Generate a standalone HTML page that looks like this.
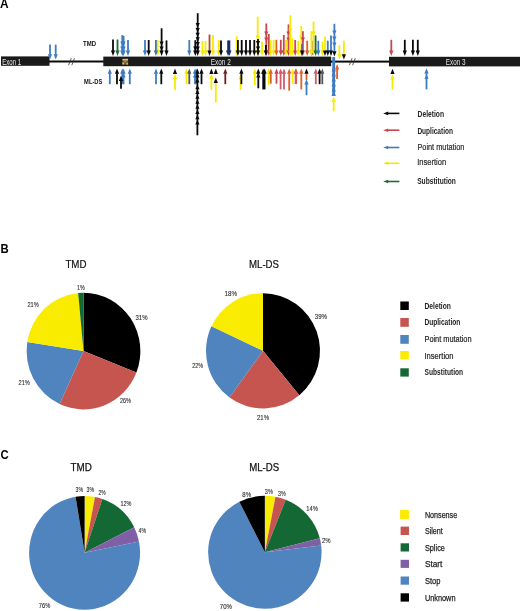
<!DOCTYPE html>
<html><head><meta charset="utf-8"><style>
html,body{margin:0;padding:0;background:#fff;width:520px;height:611px;overflow:hidden}
svg{display:block;will-change:transform}
text{font-family:"Liberation Sans",sans-serif}
</style></head><body>
<svg width="520" height="611" viewBox="0 0 520 611" font-family="Liberation Sans, sans-serif">
<rect x="1" y="56.4" width="48.5" height="9.4" fill="#1a1a1a"/><rect x="49" y="60.5" width="56" height="2" fill="#0a0a0a"/><rect x="103.3" y="56.6" width="227.9" height="9.6" fill="#1a1a1a"/><rect x="330" y="60.6" width="60" height="2" fill="#0a0a0a"/><rect x="389" y="56.8" width="131" height="9.6" fill="#1a1a1a"/><path d="M68.6 65.2L71.3 58.2M71.8 65.2L74.5 58.2" stroke="#333" stroke-width="0.8" fill="none"/><path d="M349.4 65.2L352.1 58.2M352.6 65.2L355.3 58.2" stroke="#333" stroke-width="0.8" fill="none"/><rect x="122.3" y="58.8" width="5.8" height="5.8" fill="#6e5a30"/><rect x="122.6" y="58.9" width="5.4" height="1.5" fill="#d9c383"/><rect x="122.3" y="62.4" width="1.9" height="2" fill="#c8b27a"/><rect x="126.4" y="62.8" width="1.7" height="1.8" fill="#c8b27a"/><rect x="124.2" y="61" width="2.2" height="1.2" fill="#a08848"/>
<path d="M50.00 44.60V54.70" stroke="#3d7cc4" stroke-width="1.8"/>
<path d="M47.90 54.20L52.10 54.20L50.00 59.60Z" fill="#3d7cc4"/>
<path d="M55.70 44.60V54.70" stroke="#3d7cc4" stroke-width="1.8"/>
<path d="M53.60 54.20L57.80 54.20L55.70 59.60Z" fill="#3d7cc4"/>
<path d="M113.00 39.50V51.00" stroke="#0a0a0a" stroke-width="1.8"/>
<path d="M110.90 50.50L115.10 50.50L113.00 55.90Z" fill="#0a0a0a"/>
<path d="M117.50 39.50V51.00" stroke="#1c6b38" stroke-width="1.8"/>
<path d="M115.40 50.50L119.60 50.50L117.50 55.90Z" fill="#1c6b38"/>
<path d="M122.30 35.00V51.00" stroke="#3d7cc4" stroke-width="1.8"/>
<path d="M120.20 41.60L124.40 41.60L122.30 46.00Z" fill="#3d7cc4"/>
<path d="M120.20 46.60L124.40 46.60L122.30 51.00Z" fill="#3d7cc4"/>
<path d="M120.20 50.50L124.40 50.50L122.30 55.90Z" fill="#3d7cc4"/>
<path d="M123.60 36.00V51.00" stroke="#3d7cc4" stroke-width="1.8"/>
<path d="M121.50 41.60L125.70 41.60L123.60 46.00Z" fill="#3d7cc4"/>
<path d="M121.50 46.60L125.70 46.60L123.60 51.00Z" fill="#3d7cc4"/>
<path d="M121.50 50.50L125.70 50.50L123.60 55.90Z" fill="#3d7cc4"/>
<path d="M128.00 40.00V51.00" stroke="#3d7cc4" stroke-width="1.8"/>
<path d="M125.90 50.50L130.10 50.50L128.00 55.90Z" fill="#3d7cc4"/>
<path d="M145.00 40.00V51.00" stroke="#3d7cc4" stroke-width="1.8"/>
<path d="M142.90 50.50L147.10 50.50L145.00 55.90Z" fill="#3d7cc4"/>
<path d="M148.70 40.00V51.00" stroke="#0a0a0a" stroke-width="1.8"/>
<path d="M146.60 50.50L150.80 50.50L148.70 55.90Z" fill="#0a0a0a"/>
<path d="M157.70 40.00V51.00" stroke="#f8ea00" stroke-width="1.8"/>
<path d="M155.60 50.50L159.80 50.50L157.70 55.90Z" fill="#f8ea00"/>
<path d="M155.90 40.00V51.00" stroke="#3f7a9a" stroke-width="1.8"/>
<path d="M153.80 50.50L158.00 50.50L155.90 55.90Z" fill="#3f7a9a"/>
<path d="M161.60 28.30V51.00" stroke="#0a0a0a" stroke-width="1.8"/>
<path d="M159.50 41.40L163.70 41.40L161.60 45.80Z" fill="#0a0a0a"/>
<path d="M159.50 46.60L163.70 46.60L161.60 51.00Z" fill="#0a0a0a"/>
<path d="M159.50 50.50L163.70 50.50L161.60 55.90Z" fill="#0a0a0a"/>
<path d="M166.50 40.40V51.00" stroke="#0a0a0a" stroke-width="1.8"/>
<path d="M164.40 50.50L168.60 50.50L166.50 55.90Z" fill="#0a0a0a"/>
<path d="M189.30 40.00V51.00" stroke="#3d7cc4" stroke-width="1.8"/>
<path d="M187.20 50.50L191.40 50.50L189.30 55.90Z" fill="#3d7cc4"/>
<path d="M195.30 40.20V51.00" stroke="#0a0a0a" stroke-width="1.8"/>
<path d="M193.20 46.60L197.40 46.60L195.30 51.00Z" fill="#0a0a0a"/>
<path d="M193.20 50.50L197.40 50.50L195.30 55.90Z" fill="#0a0a0a"/>
<path d="M197.70 13.20V51.00" stroke="#0a0a0a" stroke-width="1.8"/>
<path d="M195.60 23.10L199.80 23.10L197.70 27.50Z" fill="#0a0a0a"/>
<path d="M195.60 27.90L199.80 27.90L197.70 32.30Z" fill="#0a0a0a"/>
<path d="M195.60 32.70L199.80 32.70L197.70 37.10Z" fill="#0a0a0a"/>
<path d="M195.60 37.30L199.80 37.30L197.70 41.70Z" fill="#0a0a0a"/>
<path d="M195.60 41.90L199.80 41.90L197.70 46.30Z" fill="#0a0a0a"/>
<path d="M195.60 46.60L199.80 46.60L197.70 51.00Z" fill="#0a0a0a"/>
<path d="M195.60 50.50L199.80 50.50L197.70 55.90Z" fill="#0a0a0a"/>
<path d="M202.50 41.00V51.00" stroke="#f8ea00" stroke-width="1.8"/>
<path d="M200.40 50.50L204.60 50.50L202.50 55.90Z" fill="#f8ea00"/>
<path d="M205.50 41.00V51.00" stroke="#f8ea00" stroke-width="1.8"/>
<path d="M203.40 50.50L207.60 50.50L205.50 55.90Z" fill="#f8ea00"/>
<path d="M209.50 34.50V51.00" stroke="#b8482a" stroke-width="1.8"/>
<path d="M207.40 50.50L211.60 50.50L209.50 55.90Z" fill="#0a0a0a"/>
<path d="M213.00 35.00V51.00" stroke="#f8ea00" stroke-width="1.8"/>
<path d="M210.90 50.50L215.10 50.50L213.00 55.90Z" fill="#f8ea00"/>
<path d="M218.80 40.00V51.00" stroke="#f8ea00" stroke-width="1.8"/>
<path d="M216.70 50.50L220.90 50.50L218.80 55.90Z" fill="#f8ea00"/>
<path d="M221.00 40.40V51.00" stroke="#0a0a0a" stroke-width="1.8"/>
<path d="M218.90 50.50L223.10 50.50L221.00 55.90Z" fill="#0a0a0a"/>
<path d="M228.10 40.40V51.00" stroke="#1d2d6b" stroke-width="1.8"/>
<path d="M226.00 50.50L230.20 50.50L228.10 55.90Z" fill="#1d2d6b"/>
<path d="M229.40 40.40V51.00" stroke="#1d2d6b" stroke-width="1.8"/>
<path d="M227.30 50.50L231.50 50.50L229.40 55.90Z" fill="#1d2d6b"/>
<path d="M236.70 36.30V51.00" stroke="#f8ea00" stroke-width="1.8"/>
<path d="M234.60 50.50L238.80 50.50L236.70 55.90Z" fill="#f8ea00"/>
<path d="M237.90 40.00V51.00" stroke="#0a0a0a" stroke-width="1.8"/>
<path d="M235.80 50.50L240.00 50.50L237.90 55.90Z" fill="#0a0a0a"/>
<path d="M241.70 40.00V51.00" stroke="#0a0a0a" stroke-width="1.8"/>
<path d="M239.60 50.50L243.80 50.50L241.70 55.90Z" fill="#0a0a0a"/>
<path d="M246.00 40.00V51.00" stroke="#0a0a0a" stroke-width="1.8"/>
<path d="M243.90 50.50L248.10 50.50L246.00 55.90Z" fill="#0a0a0a"/>
<path d="M250.00 40.00V51.00" stroke="#0a0a0a" stroke-width="1.8"/>
<path d="M247.90 50.50L252.10 50.50L250.00 55.90Z" fill="#0a0a0a"/>
<path d="M254.30 40.00V51.00" stroke="#0a0a0a" stroke-width="1.8"/>
<path d="M252.20 50.50L256.40 50.50L254.30 55.90Z" fill="#0a0a0a"/>
<path d="M257.70 16.70V51.00" stroke="#f8ea00" stroke-width="1.8"/>
<path d="M255.60 35.60L259.80 35.60L257.70 40.00Z" fill="#f8ea00"/>
<path d="M255.60 50.50L259.80 50.50L257.70 55.90Z" fill="#f8ea00"/>
<path d="M258.00 39.00V51.00" stroke="#0a0a0a" stroke-width="1.8"/>
<path d="M255.90 41.10L260.10 41.10L258.00 45.50Z" fill="#0a0a0a"/>
<path d="M255.90 46.60L260.10 46.60L258.00 51.00Z" fill="#0a0a0a"/>
<path d="M255.90 50.50L260.10 50.50L258.00 55.90Z" fill="#0a0a0a"/>
<path d="M262.00 41.70V51.00" stroke="#f8ea00" stroke-width="1.8"/>
<path d="M259.90 50.50L264.10 50.50L262.00 55.90Z" fill="#f8ea00"/>
<path d="M266.30 23.50V51.00" stroke="#c8464e" stroke-width="1.8"/>
<path d="M264.20 31.60L268.40 31.60L266.30 36.00Z" fill="#c8464e"/>
<path d="M264.20 37.60L268.40 37.60L266.30 42.00Z" fill="#c8464e"/>
<path d="M264.20 50.50L268.40 50.50L266.30 55.90Z" fill="#c8464e"/>
<path d="M265.90 45.00V51.00" stroke="#0a0a0a" stroke-width="1.8"/>
<path d="M263.80 50.50L268.00 50.50L265.90 55.90Z" fill="#0a0a0a"/>
<path d="M268.80 34.00V51.00" stroke="#c8464e" stroke-width="1.8"/>
<path d="M266.70 50.50L270.90 50.50L268.80 55.90Z" fill="#c8464e"/>
<path d="M270.70 39.80V51.00" stroke="#f8ea00" stroke-width="1.8"/>
<path d="M268.60 50.50L272.80 50.50L270.70 55.90Z" fill="#f8ea00"/>
<path d="M273.60 39.80V51.00" stroke="#f8ea00" stroke-width="1.8"/>
<path d="M271.50 50.50L275.70 50.50L273.60 55.90Z" fill="#f8ea00"/>
<path d="M276.40 39.80V51.00" stroke="#e0602a" stroke-width="1.8"/>
<path d="M274.30 50.50L278.50 50.50L276.40 55.90Z" fill="#e0602a"/>
<path d="M280.80 39.80V51.00" stroke="#c8464e" stroke-width="1.8"/>
<path d="M278.70 50.50L282.90 50.50L280.80 55.90Z" fill="#c8464e"/>
<path d="M283.80 35.00V51.00" stroke="#c8464e" stroke-width="1.8"/>
<path d="M281.70 50.50L285.90 50.50L283.80 55.90Z" fill="#c8464e"/>
<path d="M286.00 40.00V51.00" stroke="#f8ea00" stroke-width="1.8"/>
<path d="M283.90 50.50L288.10 50.50L286.00 55.90Z" fill="#f8ea00"/>
<path d="M288.50 24.40V51.00" stroke="#c8464e" stroke-width="1.8"/>
<path d="M286.40 31.60L290.60 31.60L288.50 36.00Z" fill="#c8464e"/>
<path d="M286.40 37.60L290.60 37.60L288.50 42.00Z" fill="#c8464e"/>
<path d="M286.40 50.50L290.60 50.50L288.50 55.90Z" fill="#c8464e"/>
<path d="M290.40 15.30V51.00" stroke="#f8ea00" stroke-width="1.8"/>
<path d="M288.30 28.60L292.50 28.60L290.40 33.00Z" fill="#f8ea00"/>
<path d="M288.30 35.60L292.50 35.60L290.40 40.00Z" fill="#f8ea00"/>
<path d="M288.30 50.50L292.50 50.50L290.40 55.90Z" fill="#f8ea00"/>
<path d="M292.30 38.00V51.00" stroke="#f8ea00" stroke-width="1.8"/>
<path d="M290.20 50.50L294.40 50.50L292.30 55.90Z" fill="#f8ea00"/>
<path d="M295.20 40.00V51.00" stroke="#c8464e" stroke-width="1.8"/>
<path d="M293.10 50.50L297.30 50.50L295.20 55.90Z" fill="#c8464e"/>
<path d="M298.20 40.70V51.00" stroke="#f8ea00" stroke-width="1.8"/>
<path d="M296.10 50.50L300.30 50.50L298.20 55.90Z" fill="#f8ea00"/>
<path d="M301.30 25.90V51.00" stroke="#f8ea00" stroke-width="1.8"/>
<path d="M299.20 35.60L303.40 35.60L301.30 40.00Z" fill="#f8ea00"/>
<path d="M299.20 50.50L303.40 50.50L301.30 55.90Z" fill="#f8ea00"/>
<path d="M302.90 31.20V51.00" stroke="#c8464e" stroke-width="1.8"/>
<path d="M300.80 37.60L305.00 37.60L302.90 42.00Z" fill="#c8464e"/>
<path d="M300.80 50.50L305.00 50.50L302.90 55.90Z" fill="#c8464e"/>
<path d="M302.00 44.00V51.00" stroke="#7b5aa0" stroke-width="1.8"/>
<path d="M299.90 50.50L304.10 50.50L302.00 55.90Z" fill="#0a0a0a"/>
<path d="M307.20 40.70V51.00" stroke="#e0602a" stroke-width="1.8"/>
<path d="M305.10 50.50L309.30 50.50L307.20 55.90Z" fill="#e0602a"/>
<path d="M311.90 40.70V51.00" stroke="#c8464e" stroke-width="1.8"/>
<path d="M309.80 50.50L314.00 50.50L311.90 55.90Z" fill="#0a0a0a"/>
<path d="M311.40 31.20V51.00" stroke="#f8ea00" stroke-width="1.8"/>
<path d="M309.30 50.50L313.50 50.50L311.40 55.90Z" fill="#f8ea00"/>
<path d="M313.50 21.60V51.00" stroke="#f8ea00" stroke-width="1.8"/>
<path d="M311.40 31.60L315.60 31.60L313.50 36.00Z" fill="#f8ea00"/>
<path d="M311.40 50.50L315.60 50.50L313.50 55.90Z" fill="#f8ea00"/>
<path d="M315.60 35.40V51.00" stroke="#1c6b38" stroke-width="1.8"/>
<path d="M313.50 50.50L317.70 50.50L315.60 55.90Z" fill="#1c6b38"/>
<path d="M318.30 40.70V51.00" stroke="#3d7cc4" stroke-width="1.8"/>
<path d="M316.20 50.50L320.40 50.50L318.30 55.90Z" fill="#3d7cc4"/>
<path d="M322.50 41.70V51.00" stroke="#f8ea00" stroke-width="1.8"/>
<path d="M320.40 50.50L324.60 50.50L322.50 55.90Z" fill="#f8ea00"/>
<path d="M325.00 36.50V51.00" stroke="#f8ea00" stroke-width="1.8"/>
<path d="M322.90 50.50L327.10 50.50L325.00 55.90Z" fill="#0a0a0a"/>
<path d="M327.80 40.70V51.00" stroke="#3d7cc4" stroke-width="1.8"/>
<path d="M325.70 50.50L329.90 50.50L327.80 55.90Z" fill="#0a0a0a"/>
<path d="M331.00 35.40V51.00" stroke="#3d7cc4" stroke-width="1.8"/>
<path d="M328.90 50.50L333.10 50.50L331.00 55.90Z" fill="#0a0a0a"/>
<path d="M334.40 23.80V51.70" stroke="#3d7cc4" stroke-width="1.8"/>
<path d="M332.30 30.60L336.50 30.60L334.40 35.00Z" fill="#3d7cc4"/>
<path d="M332.30 36.60L336.50 36.60L334.40 41.00Z" fill="#3d7cc4"/>
<path d="M332.30 42.60L336.50 42.60L334.40 47.00Z" fill="#3d7cc4"/>
<path d="M332.30 51.20L336.50 51.20L334.40 56.60Z" fill="#0a0a0a"/>
<path d="M339.40 45.00V54.70" stroke="#f8ea00" stroke-width="1.8"/>
<path d="M337.30 54.20L341.50 54.20L339.40 59.60Z" fill="#f8ea00"/>
<path d="M343.90 40.70V54.70" stroke="#f8ea00" stroke-width="1.8"/>
<path d="M341.80 54.20L346.00 54.20L343.90 59.60Z" fill="#0a0a0a"/>
<path d="M391.30 39.80V51.00" stroke="#c8464e" stroke-width="1.8"/>
<path d="M389.20 50.50L393.40 50.50L391.30 55.90Z" fill="#c8464e"/>
<path d="M404.80 39.80V51.00" stroke="#0a0a0a" stroke-width="1.8"/>
<path d="M402.70 50.50L406.90 50.50L404.80 55.90Z" fill="#0a0a0a"/>
<path d="M412.90 39.80V51.00" stroke="#0a0a0a" stroke-width="1.8"/>
<path d="M410.80 50.50L415.00 50.50L412.90 55.90Z" fill="#0a0a0a"/>
<path d="M417.80 39.80V51.00" stroke="#0a0a0a" stroke-width="1.8"/>
<path d="M415.70 50.50L419.90 50.50L417.80 55.90Z" fill="#0a0a0a"/>
<path d="M109.80 84.20V73.30" stroke="#3d7cc4" stroke-width="1.8"/>
<path d="M107.70 73.80L111.90 73.80L109.80 68.40Z" fill="#3d7cc4"/>
<path d="M117.00 84.20V73.30" stroke="#0a0a0a" stroke-width="1.8"/>
<path d="M114.90 73.80L119.10 73.80L117.00 68.40Z" fill="#0a0a0a"/>
<path d="M122.30 84.20V73.30" stroke="#3d7cc4" stroke-width="1.8"/>
<path d="M120.20 73.80L124.40 73.80L122.30 68.40Z" fill="#3d7cc4"/>
<path d="M123.50 84.20V73.30" stroke="#3d7cc4" stroke-width="1.8"/>
<path d="M121.40 77.40L125.60 77.40L123.50 73.00Z" fill="#3d7cc4"/>
<path d="M121.40 73.80L125.60 73.80L123.50 68.40Z" fill="#3d7cc4"/>
<path d="M121.00 88.80V80.50" stroke="#0a0a0a" stroke-width="1.8"/>
<path d="M118.90 81.00L123.10 81.00L121.00 75.60Z" fill="#0a0a0a"/>
<path d="M129.80 84.20V73.30" stroke="#3d7cc4" stroke-width="1.8"/>
<path d="M127.70 73.80L131.90 73.80L129.80 68.40Z" fill="#3d7cc4"/>
<path d="M156.00 84.20V73.30" stroke="#3d7cc4" stroke-width="1.8"/>
<path d="M153.90 73.80L158.10 73.80L156.00 68.40Z" fill="#3d7cc4"/>
<path d="M161.30 84.20V73.30" stroke="#0a0a0a" stroke-width="1.8"/>
<path d="M159.20 73.80L163.40 73.80L161.30 68.40Z" fill="#0a0a0a"/>
<path d="M172.90 73.90L177.10 73.90L175.00 68.50Z" fill="#0a0a0a"/>
<path d="M175.00 90.00V78.50" stroke="#f8ea00" stroke-width="1.8"/>
<path d="M172.90 79.00L177.10 79.00L175.00 73.60Z" fill="#f8ea00"/>
<path d="M186.40 84.20V73.30" stroke="#f8ea00" stroke-width="1.8"/>
<path d="M184.30 73.80L188.50 73.80L186.40 68.40Z" fill="#f8ea00"/>
<path d="M189.30 84.20V73.30" stroke="#555" stroke-width="1.8"/>
<path d="M187.20 73.80L191.40 73.80L189.30 68.40Z" fill="#555"/>
<path d="M195.00 84.20V73.30" stroke="#3d7cc4" stroke-width="1.8"/>
<path d="M192.90 77.40L197.10 77.40L195.00 73.00Z" fill="#3d7cc4"/>
<path d="M192.90 73.80L197.10 73.80L195.00 68.40Z" fill="#3d7cc4"/>
<path d="M196.20 84.20V73.30" stroke="#3d7cc4" stroke-width="1.8"/>
<path d="M194.10 73.80L198.30 73.80L196.20 68.40Z" fill="#3d7cc4"/>
<path d="M197.40 135.30V73.30" stroke="#0a0a0a" stroke-width="1.8"/>
<path d="M195.30 77.40L199.50 77.40L197.40 73.00Z" fill="#0a0a0a"/>
<path d="M195.30 82.40L199.50 82.40L197.40 78.00Z" fill="#0a0a0a"/>
<path d="M195.30 89.20L199.50 89.20L197.40 84.80Z" fill="#0a0a0a"/>
<path d="M195.30 94.00L199.50 94.00L197.40 89.60Z" fill="#0a0a0a"/>
<path d="M195.30 98.80L199.50 98.80L197.40 94.40Z" fill="#0a0a0a"/>
<path d="M195.30 103.80L199.50 103.80L197.40 99.40Z" fill="#0a0a0a"/>
<path d="M195.30 108.80L199.50 108.80L197.40 104.40Z" fill="#0a0a0a"/>
<path d="M195.30 114.00L199.50 114.00L197.40 109.60Z" fill="#0a0a0a"/>
<path d="M195.30 119.20L199.50 119.20L197.40 114.80Z" fill="#0a0a0a"/>
<path d="M195.30 124.40L199.50 124.40L197.40 120.00Z" fill="#0a0a0a"/>
<path d="M195.30 73.80L199.50 73.80L197.40 68.40Z" fill="#0a0a0a"/>
<path d="M201.50 84.20V73.30" stroke="#0a0a0a" stroke-width="1.8"/>
<path d="M199.40 73.80L203.60 73.80L201.50 68.40Z" fill="#0a0a0a"/>
<path d="M209.30 73.90L213.50 73.90L211.40 68.50Z" fill="#0a0a0a"/>
<path d="M211.40 90.00V78.50" stroke="#f8ea00" stroke-width="1.8"/>
<path d="M209.30 79.00L213.50 79.00L211.40 73.60Z" fill="#f8ea00"/>
<path d="M213.70 73.90L217.90 73.90L215.80 68.50Z" fill="#0a0a0a"/>
<path d="M215.80 102.50V82.40" stroke="#f8ea00" stroke-width="1.8"/>
<path d="M213.70 82.90L217.90 82.90L215.80 77.50Z" fill="#0a0a0a"/>
<path d="M225.30 84.20V73.30" stroke="#6e1e1e" stroke-width="1.8"/>
<path d="M223.20 73.80L227.40 73.80L225.30 68.40Z" fill="#6e1e1e"/>
<path d="M240.60 90.00V78.90" stroke="#f8ea00" stroke-width="1.8"/>
<path d="M238.50 79.40L242.70 79.40L240.60 74.00Z" fill="#f8ea00"/>
<path d="M241.40 84.20V73.30" stroke="#0a0a0a" stroke-width="1.8"/>
<path d="M239.30 73.80L243.50 73.80L241.40 68.40Z" fill="#0a0a0a"/>
<path d="M254.80 85.00V73.30" stroke="#f8ea00" stroke-width="1.8"/>
<path d="M252.70 73.80L256.90 73.80L254.80 68.40Z" fill="#f8ea00"/>
<path d="M258.30 88.30V73.30" stroke="#0a0a0a" stroke-width="1.8"/>
<path d="M256.20 77.40L260.40 77.40L258.30 73.00Z" fill="#0a0a0a"/>
<path d="M256.20 73.80L260.40 73.80L258.30 68.40Z" fill="#0a0a0a"/>
<path d="M263.20 89.40V73.30" stroke="#0a0a0a" stroke-width="1.8"/>
<path d="M261.10 73.80L265.30 73.80L263.20 68.40Z" fill="#0a0a0a"/>
<path d="M264.60 89.40V73.30" stroke="#0a0a0a" stroke-width="1.8"/>
<path d="M262.50 73.80L266.70 73.80L264.60 68.40Z" fill="#0a0a0a"/>
<path d="M268.70 85.00V73.30" stroke="#f8ea00" stroke-width="1.8"/>
<path d="M266.60 73.80L270.80 73.80L268.70 68.40Z" fill="#f8ea00"/>
<path d="M270.80 83.70V73.30" stroke="#e0602a" stroke-width="1.8"/>
<path d="M268.70 73.80L272.90 73.80L270.80 68.40Z" fill="#e0602a"/>
<path d="M276.50 83.70V73.30" stroke="#c8464e" stroke-width="1.8"/>
<path d="M274.40 73.80L278.60 73.80L276.50 68.40Z" fill="#c8464e"/>
<path d="M280.60 89.40V73.30" stroke="#d05a6a" stroke-width="1.8"/>
<path d="M278.50 73.80L282.70 73.80L280.60 68.40Z" fill="#d05a6a"/>
<path d="M284.00 89.40V73.30" stroke="#d05a6a" stroke-width="1.8"/>
<path d="M281.90 73.80L286.10 73.80L284.00 68.40Z" fill="#d05a6a"/>
<path d="M289.20 90.60V73.30" stroke="#e0602a" stroke-width="1.8"/>
<path d="M287.10 73.80L291.30 73.80L289.20 68.40Z" fill="#e0602a"/>
<path d="M292.70 84.00V73.30" stroke="#f8ea00" stroke-width="1.8"/>
<path d="M290.60 73.80L294.80 73.80L292.70 68.40Z" fill="#f8ea00"/>
<path d="M296.20 84.00V73.30" stroke="#e0602a" stroke-width="1.8"/>
<path d="M294.10 73.80L298.30 73.80L296.20 68.40Z" fill="#e0602a"/>
<path d="M295.60 84.00V73.30" stroke="#d05a6a" stroke-width="1.8"/>
<path d="M293.50 73.80L297.70 73.80L295.60 68.40Z" fill="#d05a6a"/>
<path d="M301.30 89.40V73.30" stroke="#e0602a" stroke-width="1.8"/>
<path d="M299.20 73.80L303.40 73.80L301.30 68.40Z" fill="#e0602a"/>
<path d="M306.50 80.00V73.30" stroke="#e0602a" stroke-width="1.8"/>
<path d="M304.40 73.80L308.60 73.80L306.50 68.40Z" fill="#0a0a0a"/>
<path d="M306.50 95.20V83.90" stroke="#3d7cc4" stroke-width="1.8"/>
<path d="M304.40 84.40L308.60 84.40L306.50 79.00Z" fill="#3d7cc4"/>
<path d="M315.80 84.20V73.30" stroke="#d05a6a" stroke-width="1.8"/>
<path d="M313.70 73.80L317.90 73.80L315.80 68.40Z" fill="#d05a6a"/>
<path d="M319.60 84.20V73.30" stroke="#0a0a0a" stroke-width="1.8"/>
<path d="M317.50 73.80L321.70 73.80L319.60 68.40Z" fill="#0a0a0a"/>
<path d="M322.30 84.20V73.30" stroke="#555" stroke-width="1.8"/>
<path d="M320.20 73.80L324.40 73.80L322.30 68.40Z" fill="#555"/>
<path d="M333.7 57V95" stroke="#3d7cc4" stroke-width="2.8"/>
<path d="M331.60 71.40L335.80 71.40L333.70 66.00Z" fill="#3d7cc4"/>
<path d="M331.60 76.40L335.80 76.40L333.70 71.00Z" fill="#3d7cc4"/>
<path d="M331.60 81.40L335.80 81.40L333.70 76.00Z" fill="#3d7cc4"/>
<path d="M331.60 86.40L335.80 86.40L333.70 81.00Z" fill="#3d7cc4"/>
<path d="M331.60 91.40L335.80 91.40L333.70 86.00Z" fill="#3d7cc4"/>
<path d="M331.60 95.90L335.80 95.90L333.70 90.50Z" fill="#3d7cc4"/>
<path d="M333.70 111.30V101.40" stroke="#f8ea00" stroke-width="1.8"/>
<path d="M331.60 101.90L335.80 101.90L333.70 96.50Z" fill="#f8ea00"/>
<path d="M337.10 79.00V68.90" stroke="#e0602a" stroke-width="1.8"/>
<path d="M335.00 69.40L339.20 69.40L337.10 64.00Z" fill="#e0602a"/>
<path d="M390.40 74.10L394.60 74.10L392.50 68.70Z" fill="#0a0a0a"/>
<path d="M392.50 89.40V79.30" stroke="#f8ea00" stroke-width="1.8"/>
<path d="M390.40 79.80L394.60 79.80L392.50 74.40Z" fill="#f8ea00"/>
<path d="M426.50 89.40V73.10" stroke="#3d7cc4" stroke-width="1.8"/>
<path d="M424.40 78.80L428.60 78.80L426.50 74.40Z" fill="#3d7cc4"/>
<path d="M424.40 73.60L428.60 73.60L426.50 68.20Z" fill="#3d7cc4"/>
<path d="M387.5 113.4H399.4" stroke="#0a0a0a" stroke-width="1.6"/><path d="M383.2 113.4L388.2 111.60000000000001L388.2 115.2Z" fill="#0a0a0a"/><path d="M387.5 130.2H399.4" stroke="#c8464e" stroke-width="1.6"/><path d="M383.2 130.2L388.2 128.39999999999998L388.2 132.0Z" fill="#c8464e"/><path d="M387.5 147.5H399.4" stroke="#3d7cc4" stroke-width="1.6"/><path d="M383.2 147.5L388.2 145.7L388.2 149.3Z" fill="#3d7cc4"/><path d="M387.5 163.3H399.4" stroke="#f5e800" stroke-width="1.6"/><path d="M383.2 163.3L388.2 161.5L388.2 165.10000000000002Z" fill="#f5e800"/><path d="M387.5 181.5H399.4" stroke="#1c6b38" stroke-width="1.6"/><path d="M383.2 181.5L388.2 179.7L388.2 183.3Z" fill="#1c6b38"/>
<path d="M83.50 351.10L83.50 292.80A56.9 58.3 0 0 1 136.40 372.56Z" fill="#000"/><path d="M83.50 351.10L136.40 372.56A56.9 58.3 0 0 1 59.60 404.01Z" fill="#c65550"/><path d="M83.50 351.10L59.60 404.01A56.9 58.3 0 0 1 27.30 341.98Z" fill="#5084bf"/><path d="M83.50 351.10L27.30 341.98A56.9 58.3 0 0 1 78.15 293.06Z" fill="#faec00"/><path d="M83.50 351.10L78.15 293.06A56.9 58.3 0 0 1 83.50 292.80Z" fill="#146834"/><path d="M263.00 350.85L263.00 293.20A57.0 57.65 0 0 1 299.33 395.27Z" fill="#000"/><path d="M263.00 350.85L299.33 395.27A57.0 57.65 0 0 1 229.50 397.49Z" fill="#c65550"/><path d="M263.00 350.85L229.50 397.49A57.0 57.65 0 0 1 211.42 326.30Z" fill="#5084bf"/><path d="M263.00 350.85L211.42 326.30A57.0 57.65 0 0 1 263.00 293.20Z" fill="#faec00"/><path d="M84.60 552.80L84.60 495.90A55.5 56.9 0 0 1 95.00 496.91Z" fill="#faec00"/><path d="M84.60 552.80L95.00 496.91A55.5 56.9 0 0 1 102.41 498.91Z" fill="#c65550"/><path d="M84.60 552.80L102.41 498.91A55.5 56.9 0 0 1 134.21 527.29Z" fill="#146834"/><path d="M84.60 552.80L134.21 527.29A55.5 56.9 0 0 1 138.98 541.44Z" fill="#7f60a6"/><path d="M84.60 552.80L138.98 541.44A55.5 56.9 0 1 1 75.57 496.66Z" fill="#5084bf"/><path d="M84.60 552.80L75.57 496.66A55.5 56.9 0 0 1 84.60 495.90Z" fill="#000"/><path d="M264.85 552.30L264.85 495.80A56.75 56.5 0 0 1 275.48 496.80Z" fill="#faec00"/><path d="M264.85 552.30L275.48 496.80A56.75 56.5 0 0 1 285.74 499.77Z" fill="#c65550"/><path d="M264.85 552.30L285.74 499.77A56.75 56.5 0 0 1 319.82 538.25Z" fill="#146834"/><path d="M264.85 552.30L319.82 538.25A56.75 56.5 0 0 1 321.20 545.57Z" fill="#7f60a6"/><path d="M264.85 552.30L321.20 545.57A56.75 56.5 0 1 1 239.40 501.80Z" fill="#5084bf"/><path d="M264.85 552.30L239.40 501.80A56.75 56.5 0 0 1 264.85 495.80Z" fill="#000"/>
<rect x="400.3" y="301.5" width="8.5" height="8.5" fill="#000"/><rect x="400.3" y="318" width="8.5" height="8.8" fill="#c65550"/><rect x="400.3" y="335" width="8.5" height="8.8" fill="#5084bf"/><rect x="400.3" y="351" width="8.5" height="8.5" fill="#faec00"/><rect x="400.3" y="368.3" width="8.5" height="8.3" fill="#146834"/>
<rect x="400.1" y="510" width="8.8" height="9.1" fill="#faec00"/><rect x="400.6" y="526.6" width="8.4" height="8.4" fill="#c65550"/><rect x="400.6" y="543.3" width="8.4" height="8.2" fill="#146834"/><rect x="400.6" y="559.8" width="8.4" height="8.1" fill="#7f60a6"/><rect x="400.6" y="576.5" width="8.4" height="8.2" fill="#5084bf"/><rect x="400.6" y="593.3" width="8.4" height="8.3" fill="#000"/>
<text x="0.1" y="8.3" font-size="12" font-weight="bold" fill="#000" text-anchor="start" textLength="8.6" lengthAdjust="spacingAndGlyphs">A</text><text x="0.4" y="252.6" font-size="12.2" font-weight="bold" fill="#000" text-anchor="start" textLength="8.2" lengthAdjust="spacingAndGlyphs">B</text><text x="0.6" y="459" font-size="12" font-weight="bold" fill="#000" text-anchor="start" textLength="8.2" lengthAdjust="spacingAndGlyphs">C</text><text x="83.1" y="46.1" font-size="7.2" font-weight="bold" fill="#111" text-anchor="start" textLength="13" lengthAdjust="spacingAndGlyphs">TMD</text><text x="84.1" y="84.0" font-size="6.6" font-weight="bold" fill="#111" text-anchor="start" textLength="18.2" lengthAdjust="spacingAndGlyphs">ML-DS</text><text x="2.2" y="64.5" font-size="8.6" font-weight="normal" fill="#e4e4e4" text-anchor="start" textLength="19" lengthAdjust="spacingAndGlyphs">Exon 1</text><text x="210.8" y="64.8" font-size="8.6" font-weight="normal" fill="#e4e4e4" text-anchor="start" textLength="20" lengthAdjust="spacingAndGlyphs">Exon 2</text><text x="445.8" y="64.8" font-size="8.6" font-weight="normal" fill="#e4e4e4" text-anchor="start" textLength="19.6" lengthAdjust="spacingAndGlyphs">Exon 3</text><text x="417.6" y="116.8" font-size="8.9" font-weight="bold" fill="#222" text-anchor="start" textLength="26.4" lengthAdjust="spacingAndGlyphs">Deletion</text><text x="417.4" y="133.6" font-size="8.9" font-weight="bold" fill="#222" text-anchor="start" textLength="35.6" lengthAdjust="spacingAndGlyphs">Duplication</text><text x="417.4" y="149.9" font-size="8.9" font-weight="normal" fill="#2a2a2a" text-anchor="start" textLength="47" lengthAdjust="spacingAndGlyphs" stroke="#2a2a2a" stroke-width="0.2">Point mutation</text><text x="417.2" y="165.3" font-size="8.9" font-weight="normal" fill="#2a2a2a" text-anchor="start" textLength="29" lengthAdjust="spacingAndGlyphs" stroke="#2a2a2a" stroke-width="0.2">Insertion</text><text x="417.2" y="183.9" font-size="8.9" font-weight="bold" fill="#222" text-anchor="start" textLength="38.7" lengthAdjust="spacingAndGlyphs">Substitution</text><text x="65.4" y="267.8" font-size="10.4" font-weight="normal" fill="#111" text-anchor="start" textLength="21.1" lengthAdjust="spacingAndGlyphs" stroke="#111" stroke-width="0.2">TMD</text><text x="249" y="267.8" font-size="10.4" font-weight="normal" fill="#111" text-anchor="start" textLength="30" lengthAdjust="spacingAndGlyphs" stroke="#111" stroke-width="0.2">ML-DS</text><text x="70.6" y="471.2" font-size="10.4" font-weight="normal" fill="#111" text-anchor="start" textLength="21.3" lengthAdjust="spacingAndGlyphs" stroke="#111" stroke-width="0.25">TMD</text><text x="249.2" y="471.2" font-size="10.4" font-weight="normal" fill="#111" text-anchor="start" textLength="30" lengthAdjust="spacingAndGlyphs" stroke="#111" stroke-width="0.25">ML-DS</text><text x="135.5" y="319.6" font-size="7.2" font-weight="normal" fill="#2a2a2a" text-anchor="start" textLength="12" lengthAdjust="spacingAndGlyphs" stroke="#2a2a2a" stroke-width="0.12">31%</text><text x="120" y="403.2" font-size="7.2" font-weight="normal" fill="#2a2a2a" text-anchor="start" textLength="11" lengthAdjust="spacingAndGlyphs" stroke="#2a2a2a" stroke-width="0.12">26%</text><text x="18.6" y="384.6" font-size="7.2" font-weight="normal" fill="#2a2a2a" text-anchor="start" textLength="11.2" lengthAdjust="spacingAndGlyphs" stroke="#2a2a2a" stroke-width="0.12">21%</text><text x="27.5" y="306.6" font-size="7.2" font-weight="normal" fill="#2a2a2a" text-anchor="start" textLength="11.2" lengthAdjust="spacingAndGlyphs" stroke="#2a2a2a" stroke-width="0.12">21%</text><text x="77" y="289.8" font-size="7.2" font-weight="normal" fill="#2a2a2a" text-anchor="start" textLength="7.6" lengthAdjust="spacingAndGlyphs" stroke="#2a2a2a" stroke-width="0.12">1%</text><text x="314.8" y="319.2" font-size="7.2" font-weight="normal" fill="#2a2a2a" text-anchor="start" textLength="12.2" lengthAdjust="spacingAndGlyphs" stroke="#2a2a2a" stroke-width="0.12">39%</text><text x="257" y="419.8" font-size="7.2" font-weight="normal" fill="#2a2a2a" text-anchor="start" textLength="12" lengthAdjust="spacingAndGlyphs" stroke="#2a2a2a" stroke-width="0.12">21%</text><text x="192.3" y="368.4" font-size="7.2" font-weight="normal" fill="#2a2a2a" text-anchor="start" textLength="10.7" lengthAdjust="spacingAndGlyphs" stroke="#2a2a2a" stroke-width="0.12">22%</text><text x="224.6" y="295.8" font-size="7.2" font-weight="normal" fill="#2a2a2a" text-anchor="start" textLength="12.4" lengthAdjust="spacingAndGlyphs" stroke="#2a2a2a" stroke-width="0.12">18%</text><text x="75.5" y="492.3" font-size="7.2" font-weight="normal" fill="#2a2a2a" text-anchor="start" textLength="7.5" lengthAdjust="spacingAndGlyphs" stroke="#2a2a2a" stroke-width="0.12">3%</text><text x="86.5" y="492.3" font-size="7.2" font-weight="normal" fill="#2a2a2a" text-anchor="start" textLength="7.5" lengthAdjust="spacingAndGlyphs" stroke="#2a2a2a" stroke-width="0.12">3%</text><text x="98.6" y="494.7" font-size="7.2" font-weight="normal" fill="#2a2a2a" text-anchor="start" textLength="7" lengthAdjust="spacingAndGlyphs" stroke="#2a2a2a" stroke-width="0.12">2%</text><text x="120.5" y="506.1" font-size="7.2" font-weight="normal" fill="#2a2a2a" text-anchor="start" textLength="11" lengthAdjust="spacingAndGlyphs" stroke="#2a2a2a" stroke-width="0.12">12%</text><text x="138.5" y="532.8" font-size="7.2" font-weight="normal" fill="#2a2a2a" text-anchor="start" textLength="7.5" lengthAdjust="spacingAndGlyphs" stroke="#2a2a2a" stroke-width="0.12">4%</text><text x="38.8" y="607.6" font-size="7.2" font-weight="normal" fill="#2a2a2a" text-anchor="start" textLength="11.4" lengthAdjust="spacingAndGlyphs" stroke="#2a2a2a" stroke-width="0.12">76%</text><text x="242.3" y="496.8" font-size="7.2" font-weight="normal" fill="#2a2a2a" text-anchor="start" textLength="8.7" lengthAdjust="spacingAndGlyphs" stroke="#2a2a2a" stroke-width="0.12">8%</text><text x="264.8" y="494.1" font-size="7.2" font-weight="normal" fill="#2a2a2a" text-anchor="start" textLength="8" lengthAdjust="spacingAndGlyphs" stroke="#2a2a2a" stroke-width="0.12">3%</text><text x="278" y="495.7" font-size="7.2" font-weight="normal" fill="#2a2a2a" text-anchor="start" textLength="7.6" lengthAdjust="spacingAndGlyphs" stroke="#2a2a2a" stroke-width="0.12">3%</text><text x="306.3" y="511.3" font-size="7.2" font-weight="normal" fill="#2a2a2a" text-anchor="start" textLength="11.5" lengthAdjust="spacingAndGlyphs" stroke="#2a2a2a" stroke-width="0.12">14%</text><text x="322" y="543.1" font-size="7.2" font-weight="normal" fill="#2a2a2a" text-anchor="start" textLength="8.6" lengthAdjust="spacingAndGlyphs" stroke="#2a2a2a" stroke-width="0.12">2%</text><text x="219.8" y="608.9" font-size="7.2" font-weight="normal" fill="#2a2a2a" text-anchor="start" textLength="12.1" lengthAdjust="spacingAndGlyphs" stroke="#2a2a2a" stroke-width="0.12">70%</text><text x="424.5" y="309.0" font-size="8.8" font-weight="bold" fill="#222" text-anchor="start" textLength="26.4" lengthAdjust="spacingAndGlyphs">Deletion</text><text x="424.5" y="325.0" font-size="8.8" font-weight="bold" fill="#222" text-anchor="start" textLength="35.8" lengthAdjust="spacingAndGlyphs">Duplication</text><text x="424.5" y="342.0" font-size="8.8" font-weight="normal" fill="#222" text-anchor="start" textLength="47" lengthAdjust="spacingAndGlyphs" stroke="#222" stroke-width="0.2">Point mutation</text><text x="424.5" y="359.0" font-size="8.8" font-weight="normal" fill="#222" text-anchor="start" textLength="29" lengthAdjust="spacingAndGlyphs" stroke="#222" stroke-width="0.2">Insertion</text><text x="424.5" y="375.2" font-size="8.8" font-weight="bold" fill="#222" text-anchor="start" textLength="38.6" lengthAdjust="spacingAndGlyphs">Substitution</text><text x="424.9" y="517.8" font-size="8.8" font-weight="normal" fill="#1e1e1e" text-anchor="start" textLength="32.3" lengthAdjust="spacingAndGlyphs" stroke="#1e1e1e" stroke-width="0.25">Nonsense</text><text x="424.9" y="533.9" font-size="8.8" font-weight="normal" fill="#1e1e1e" text-anchor="start" textLength="17.9" lengthAdjust="spacingAndGlyphs" stroke="#1e1e1e" stroke-width="0.25">Silent</text><text x="424.9" y="550.6" font-size="8.8" font-weight="normal" fill="#1e1e1e" text-anchor="start" textLength="20" lengthAdjust="spacingAndGlyphs" stroke="#1e1e1e" stroke-width="0.25">Splice</text><text x="424.9" y="567.2" font-size="8.8" font-weight="normal" fill="#1e1e1e" text-anchor="start" textLength="17.5" lengthAdjust="spacingAndGlyphs" stroke="#1e1e1e" stroke-width="0.25">Start</text><text x="424.9" y="584.4" font-size="8.8" font-weight="normal" fill="#1e1e1e" text-anchor="start" textLength="15.5" lengthAdjust="spacingAndGlyphs" stroke="#1e1e1e" stroke-width="0.25">Stop</text><text x="424.9" y="600.8" font-size="8.8" font-weight="normal" fill="#1e1e1e" text-anchor="start" textLength="30.6" lengthAdjust="spacingAndGlyphs" stroke="#1e1e1e" stroke-width="0.25">Unknown</text>
</svg>
</body></html>
